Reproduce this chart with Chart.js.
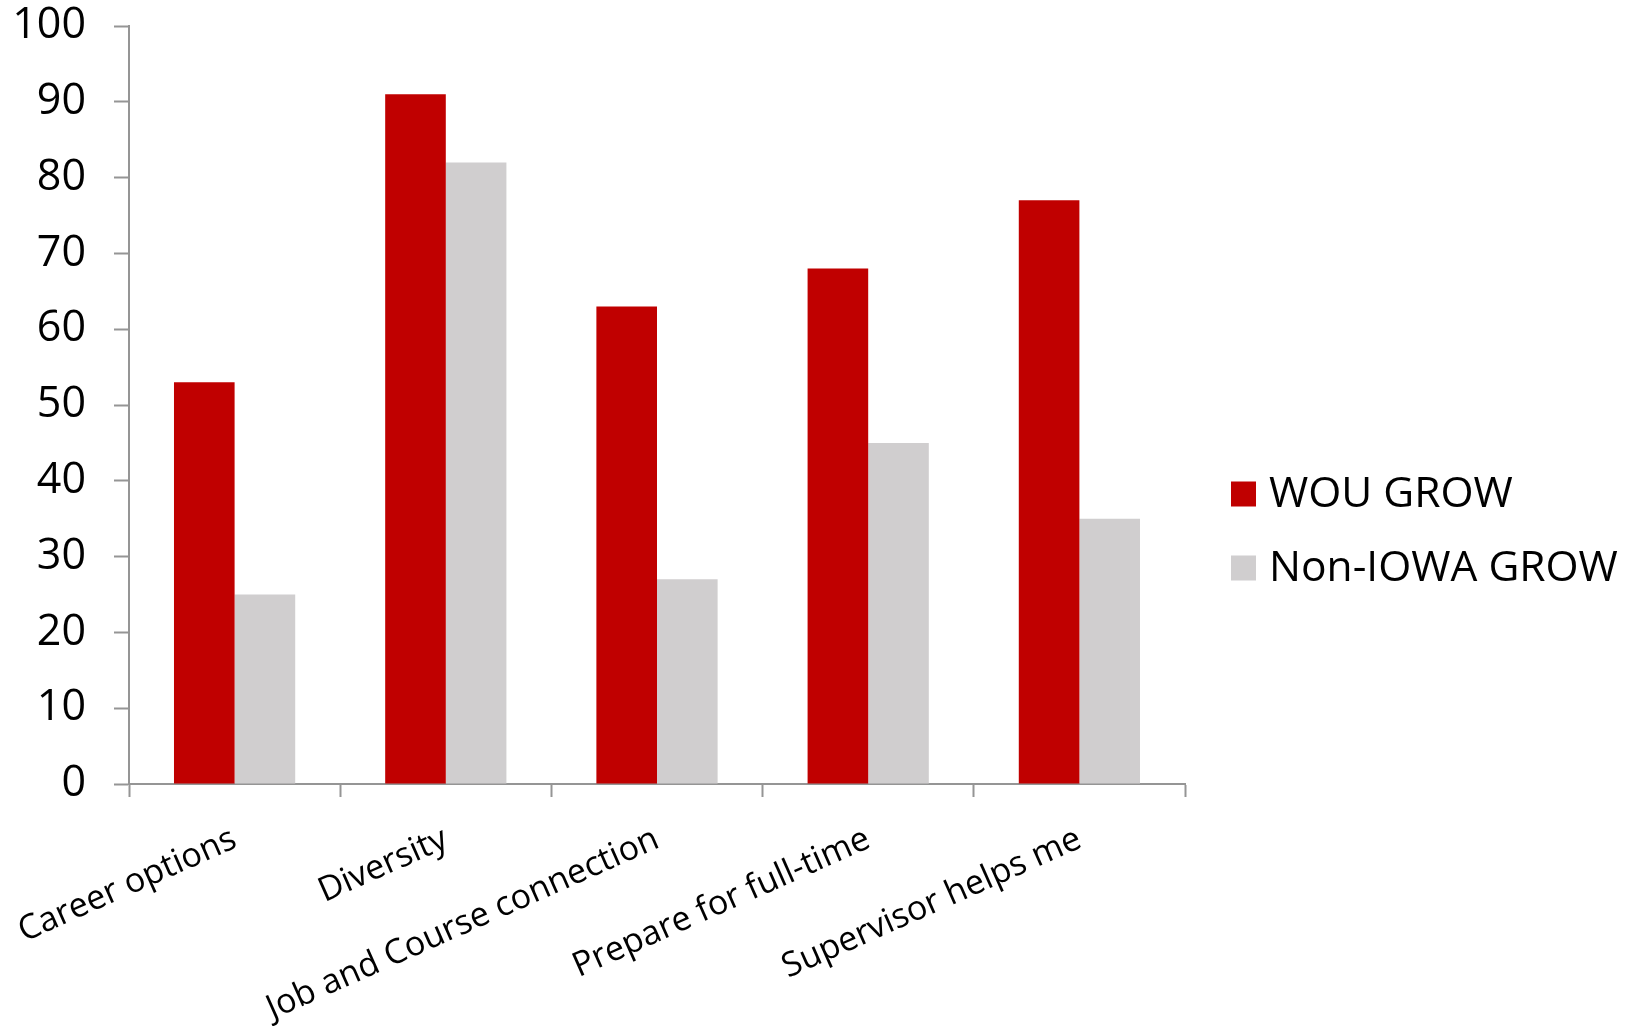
<!DOCTYPE html>
<html>
<head>
<meta charset="utf-8">
<script src="https://cdn.jsdelivr.net/npm/chart.js@4.4.1/dist/chart.umd.min.js"></script>
<style>
  html, body { margin: 0; padding: 0; background: #ffffff; }
  #wrap { width: 1639px; height: 1030px; }
</style>
</head>
<body>
<div id="wrap"><canvas id="chart" width="1639" height="1030"></canvas></div>
<script>
// Survey results: share of respondents agreeing, by program
const categories = [
  'Career options',
  'Diversity',
  'Job and Course connection',
  'Prepare for full-time',
  'Supervisor helps me'
];
const seriesNames = ['WOU GROW', 'Non-IOWA GROW'];
const wouGrow = [53, 91, 63, 68, 77];
const nonIowaGrow = [25, 82, 27, 45, 35];
const yTickValues = [0, 10, 20, 30, 40, 50, 60, 70, 80, 90, 100];

const RED = '#C00000';
const GREY = '#D0CECF';
const AXIS = '#959595';

// Legend drawn to the right of the plot, items stacked vertically
const sideLegend = {
  id: 'sideLegend',
  afterDraw(chart, args, opts) {
    const ctx = chart.ctx;
    const area = chart.chartArea;
    const sets = chart.data.datasets;
    const firstY = opts.centerY - (sets.length - 1) * opts.spacing / 2;
    ctx.save();
    ctx.font = opts.font;
    ctx.textAlign = 'left';
    ctx.textBaseline = 'middle';
    sets.forEach((ds, i) => {
      const y = firstY + i * opts.spacing;
      const x = area.right + opts.gap;
      ctx.fillStyle = ds.backgroundColor;
      ctx.fillRect(x, y - opts.box / 2, opts.box, opts.box);
      ctx.fillStyle = opts.color;
      ctx.fillText(ds.label, x + opts.box + opts.textGap, y + opts.textShift);
    });
    ctx.restore();
  }
};

new Chart(document.getElementById('chart'), {
  type: 'bar',
  data: {
    labels: categories,
    datasets: [
      { label: seriesNames[0], data: wouGrow, backgroundColor: RED, borderWidth: 0 },
      { label: seriesNames[1], data: nonIowaGrow, backgroundColor: GREY, borderWidth: 0 }
    ]
  },
  plugins: [sideLegend],
  options: {
    responsive: false,
    animation: false,
    devicePixelRatio: 1,
    layout: { padding: { top: 0, right: 454, left: 0, bottom: 0 } },
    datasets: {
      bar: { categoryPercentage: 0.574, barPercentage: 1.0 }
    },
    plugins: {
      legend: { display: false },
      tooltip: { enabled: false },
      sideLegend: {
        centerY: 531,
        spacing: 74,
        gap: 46,
        box: 25,
        textGap: 13,
        textShift: 1,
        font: '42.5px "Open Sans"',
        color: '#000000'
      }
    },
    scales: {
      x: {
        afterFit(scale) {
          scale.height = 246;
          scale.paddingLeft = 0;
          scale.paddingRight = 0;
        },
        grid: {
          display: true,
          offset: true,
          drawOnChartArea: false,
          drawTicks: true,
          tickLength: 13,
          tickWidth: 2,
          tickColor: AXIS
        },
        border: { display: true, color: AXIS, width: 2 },
        ticks: {
          autoSkip: false,
          minRotation: 24,
          maxRotation: 24,
          padding: 22,
          color: '#000000',
          font: { family: '"Open Sans"', size: 34, lineHeight: 1.2 }
        }
      },
      y: {
        min: 0,
        max: 100,
        afterFit(scale) {
          scale.width = 129;
          scale.paddingTop = 26;
          scale.paddingBottom = 0;
        },
        afterBuildTicks(scale) { scale.ticks = yTickValues.map(v => ({ value: v })); },
        grid: {
          display: true,
          drawOnChartArea: false,
          drawTicks: true,
          tickLength: 15,
          tickWidth: 2,
          tickColor: AXIS
        },
        border: { display: true, color: AXIS, width: 2 },
        ticks: {
          padding: 28,
          color: '#000000',
          font: { family: '"Open Sans"', size: 43, lineHeight: 1.1 }
        }
      }
    }
  }
});
</script>
</body>
</html>
